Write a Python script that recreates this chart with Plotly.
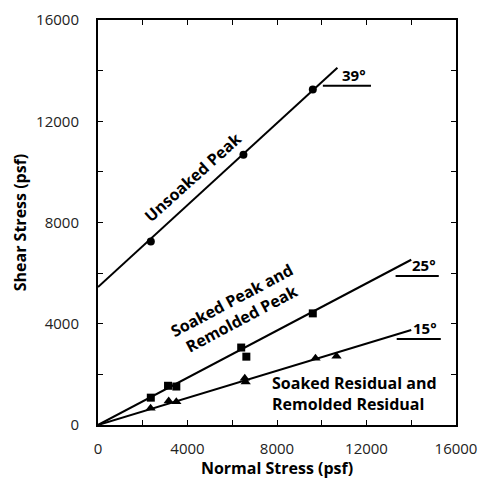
import math
import plotly.graph_objects as go

# --- data ---
unsoaked_x = [2360, 6500, 9600]
unsoaked_y = [7250, 10680, 13250]

soaked_peak_x = [2360, 3130, 3500, 6400, 6630, 9600]
soaked_peak_y = [1080, 1550, 1520, 3060, 2700, 4410]

residual_x = [2350, 3160, 3500, 6560, 6600, 9720, 10660]
residual_y = [660, 950, 920, 1850, 1700, 2640, 2720]

# strength envelopes: cohesion (psf), friction angle (deg), envelope end (psf)
env_cohesion = [5450, 0, 0]
env_phi = [39, 25, 15]
env_xend = [10700, 14000, 14000]
angle_labels = ["39°", "25°", "15°"]

x_ticks = [0, 4000, 8000, 12000, 16000]
y_ticks = [0, 4000, 8000, 12000, 16000]

FONT = "Open Sans"

fig = go.Figure()

for c, phi, xe in zip(env_cohesion, env_phi, env_xend):
    fig.add_trace(go.Scatter(
        x=[0, xe], y=[c, c + xe * math.tan(math.radians(phi))],
        mode="lines", line=dict(color="black", width=2), showlegend=False,
        hoverinfo="skip"))

fig.add_trace(go.Scatter(x=unsoaked_x, y=unsoaked_y, mode="markers",
                         marker=dict(symbol="circle", size=8, color="black"),
                         showlegend=False))
fig.add_trace(go.Scatter(x=soaked_peak_x, y=soaked_peak_y, mode="markers",
                         marker=dict(symbol="square", size=8, color="black"),
                         showlegend=False))
fig.add_trace(go.Scatter(x=residual_x, y=residual_y, mode="markers",
                         marker=dict(symbol="triangle-up", size=9, color="black"),
                         showlegend=False))

# angle indicators (short horizontal bar under angle label)
bars = [(10050, 12200, 13400), (13300, 15230, 5890), (13350, 15320, 3400)]
for (x0, x1, yb), lab in zip(bars, angle_labels):
    fig.add_shape(type="line", x0=x0, x1=x1, y0=yb, y1=yb,
                  line=dict(color="black", width=2))
    fig.add_annotation(x=(x0 + x1) / 2 + 300, y=yb, yshift=11, text="<b>" + lab + "</b>",
                       showarrow=False, font=dict(family=FONT, size=15, color="black"))

fig.add_annotation(x=4245, y=9800, text="<b>Unsoaked Peak</b>", textangle=-42,
                   showarrow=False, font=dict(family=FONT, size=16, color="black"))
fig.add_annotation(x=6210, y=4550, text="<b>Soaked Peak and<br>Remolded Peak</b>",
                   textangle=-28, showarrow=False,
                   font=dict(family=FONT, size=16, color="black"))
fig.add_annotation(x=7700, y=1250, xanchor="left",
                   text="<b>Soaked Residual and<br>Remolded Residual</b>", align="left",
                   showarrow=False, font=dict(family=FONT, size=16, color="black"))

axis_common = dict(
    showline=True, linecolor="black", linewidth=2, mirror="ticks",
    ticks="inside", ticklen=5, tickwidth=1, tickcolor="black",
    showgrid=False, zeroline=False, automargin=True,
    ticklabeloverflow="allow",
    minor=dict(ticks="inside", dtick=2000, ticklen=5, tickcolor="black", showgrid=False),
    tickfont=dict(family=FONT, size=15, color="#222"),
)

fig.update_xaxes(range=[0, 16000], tickvals=x_ticks, ticktext=[str(v) for v in x_ticks],
                 ticklabelstandoff=9,
                 title=dict(text="<b>Normal Stress (psf)</b>", standoff=9,
                            font=dict(family=FONT, size=16, color="black")),
                 **axis_common)
fig.update_yaxes(range=[0, 16000], tickvals=y_ticks, ticktext=[str(v) for v in y_ticks],
                 ticklabelstandoff=14,
                 title=dict(text="<b>Shear Stress (psf)</b>", standoff=6,
                            font=dict(family=FONT, size=16, color="black")),
                 **axis_common)

fig.update_layout(
    width=481, height=479,
    margin=dict(l=98, r=25, t=20, b=54, autoexpand=False),
    plot_bgcolor="white", paper_bgcolor="white",
    font=dict(family=FONT),
)

# remove the default page margin so the figure fills the window exactly
fig.write_html("out.html", config={"displayModeBar": False},
               post_script="document.body.style.margin='0';document.body.style.overflow='hidden';")
